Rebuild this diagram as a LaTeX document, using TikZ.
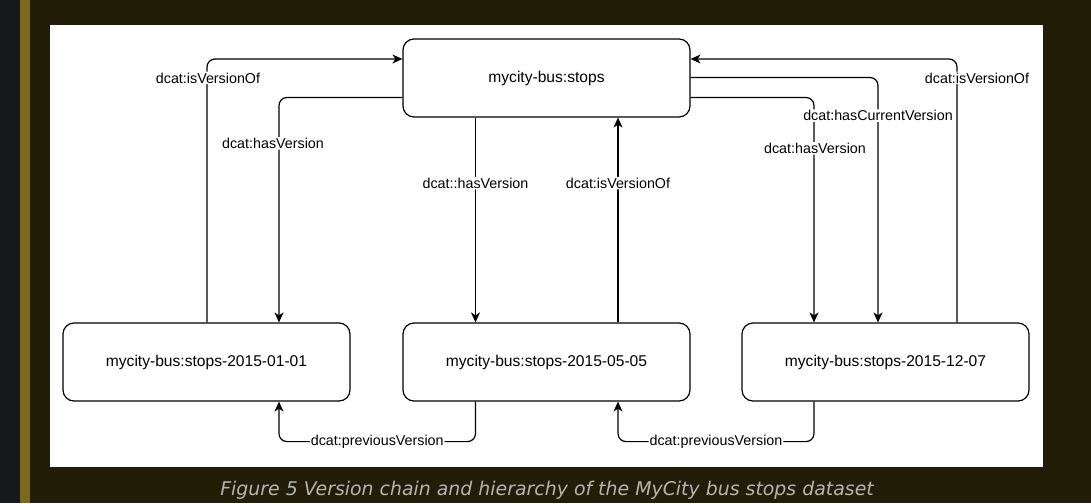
\documentclass[tikz,border=0pt]{standalone}
\usepackage{fontspec}
\setmainfont{Liberation Sans}
\newfontfamily\capfont{DejaVu Sans}
\usetikzlibrary{arrows.meta,calc}
\definecolor{leftstrip}{HTML}{16181B}
\definecolor{olivebar}{HTML}{7A6A1A}
\definecolor{pagebg}{HTML}{221D07}
\definecolor{captxt}{HTML}{B4B4B4}
\tikzset{
  box/.style={draw=black,line width=1.2pt,rounded corners=11pt,minimum width=287pt,minimum height=78pt,inner sep=0pt,font=\fontsize{15.6}{18}\selectfont,fill=white},
  conn/.style={draw=black,line width=1.2pt,rounded corners=8pt},
  arr/.style={conn,-{Stealth[length=10pt,width=9pt,inset=3pt]}},
  lbl/.style={fill=white,inner sep=1pt,font=\fontsize{14.3}{17}\selectfont,text=black}
}
\begin{document}
\begin{tikzpicture}[x=1pt,y=-1pt]
\useasboundingbox (0,0) rectangle (1091,503);
\fill[pagebg] (0,0) rectangle (1091,503);
\fill[leftstrip] (0,0) rectangle (20,503);
\fill[olivebar] (20,0) rectangle (30,503);
\fill[white] (50,25) rectangle (1043,467);

\node[box] (top) at (546.5,78) {mycity-bus:stops};
\node[box] (bl) at (206.5,362) {mycity-bus:stops-2015-01-01};
\node[box] (bm) at (546.5,362) {mycity-bus:stops-2015-05-05};
\node[box] (br) at (885.5,362) {mycity-bus:stops-2015-12-07};

% left isVersionOf
\draw[arr] ([xshift=0.5pt]bl.north) |- node[lbl,pos=0.464,xshift=1pt]{dcat:isVersionOf} ([yshift=19pt]top.west);
% left hasVersion
\draw[arr] ([yshift=-19.5pt]top.west) -| node[lbl,pos=0.602,xshift=-6pt]{dcat:hasVersion} ([xshift=72.5pt]bl.north);
% middle hasVersion
\draw[arr] ([xshift=-71pt]top.south) -- node[lbl,pos=0.32]{dcat::hasVersion} ([xshift=-71pt]bm.north);
% middle isVersionOf
\draw[arr] ([xshift=71.5pt]bm.north) -- node[lbl,pos=0.68]{dcat:isVersionOf} ([xshift=71.5pt]top.south);
% right hasVersion
\draw[arr] ([yshift=-19.5pt]top.east) -| node[lbl,pos=0.613,xshift=1pt]{dcat:hasVersion} ([xshift=-71.5pt]br.north);
% right hasCurrentVersion
\draw[arr] ([yshift=0.5pt]top.east) -| node[lbl,pos=0.578]{dcat:hasCurrentVersion} ([xshift=-7.5pt]br.north);
% right isVersionOf
\draw[arr] ([xshift=71.5pt]br.north) |- node[lbl,pos=0.464,xshift=20pt]{dcat:isVersionOf} ([yshift=19pt]top.east);
% previousVersion chain
\draw[arr] ([xshift=-71pt]bm.south) -- ++(0,40) -| node[lbl,pos=0.25]{dcat:previousVersion} ([xshift=72.5pt]bl.south);
\draw[arr] ([xshift=-71.5pt]br.south) -- ++(0,40) -| node[lbl,pos=0.25]{dcat:previousVersion} ([xshift=71.5pt]bm.south);

\node[anchor=base,inner sep=0pt,text=captxt,font=\capfont\itshape\fontsize{18.9}{22}\selectfont] (cap) at (547,495.3) {Figure 5 Version chain and hierarchy of the MyCity bus stops dataset};
\end{tikzpicture}
\end{document}
